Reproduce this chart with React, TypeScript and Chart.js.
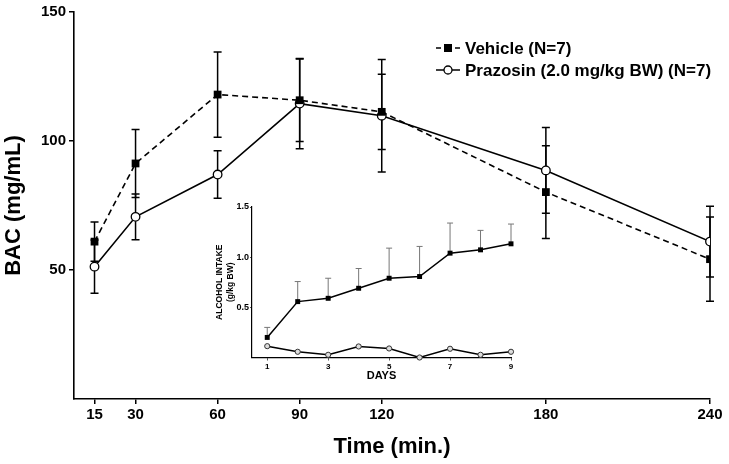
import React, { useEffect, useRef } from "react";
import { Chart, registerables } from "chart.js";
Chart.register(...registerables);

// ---- Main chart data (BAC over time) ----
const timeMin = [15, 30, 60, 90, 120, 180, 240];
const vehicleBAC = [61, 91.3, 118, 115.8, 111.3, 80.2, 54.2];
const vehicleSEM = [7.6, 13.2, 16.5, 16, 14.6, 18, 16.3];
const prazosinBAC = [51.3, 70.6, 87, 114.5, 109.8, 88.6, 61];
const prazosinSEM = [10.3, 8.9, 9.2, 17.5, 21.8, 16.6, 13.7];
const mainYTicks = [50, 100, 150];
const vehicleLabel = "Vehicle (N=7)";
const prazosinLabel = "Prazosin (2.0 mg/kg BW) (N=7)";

// ---- Inset data (alcohol intake by day) ----
const days = [1, 2, 3, 4, 5, 6, 7, 8, 9];
const vehicleIntake = [0.2, 0.557, 0.59, 0.69, 0.79, 0.807, 1.04, 1.073, 1.133];
const vehicleIntakeSEM = [0.1, 0.2, 0.2, 0.197, 0.3, 0.3, 0.3, 0.194, 0.197];
const prazosinIntake = [0.113, 0.057, 0.027, 0.11, 0.09, 0.0, 0.087, 0.027, 0.057];
const insetXTicks = [1, 3, 5, 7, 9];
const insetYTicks = [0.5, 1.0, 1.5];

const FONT = "'Liberation Sans', Arial, Helvetica, sans-serif";

const errorBarPlugin = {
  id: "errorBars",
  beforeDatasetsDraw(chart: any) {
    const ctx = chart.ctx;
    chart.data.datasets.forEach((ds: any, di: number) => {
      if (!ds.errors) return;
      const meta = chart.getDatasetMeta(di);
      const ys = chart.scales[meta.yAxisID];
      ctx.save();
      ctx.strokeStyle = ds.errColor || "#000";
      ctx.lineWidth = ds.errWidth || 1.5;
      meta.data.forEach((pt: any, i: number) => {
        const v = ds.data[i].y;
        const e = ds.errors[i];
        const x = pt.x;
        const yTop = ys.getPixelForValue(v + e);
        const yBot = ds.errUpOnly ? ys.getPixelForValue(v) : ys.getPixelForValue(v - e);
        const c = ds.capHalf || 4;
        ctx.beginPath();
        ctx.moveTo(x, yTop);
        ctx.lineTo(x, yBot);
        ctx.moveTo(x - c, yTop);
        ctx.lineTo(x + c, yTop);
        if (!ds.errUpOnly) {
          ctx.moveTo(x - c, yBot);
          ctx.lineTo(x + c, yBot);
        }
        ctx.stroke();
      });
      ctx.restore();
    });
  },
};

const legendPlugin = {
  id: "customLegend",
  afterDraw(chart: any) {
    const ctx = chart.ctx;
    ctx.save();
    ctx.strokeStyle = "#000";
    ctx.fillStyle = "#000";
    ctx.lineWidth = 1.5;
    // vehicle
    const y1 = 48;
    ctx.beginPath();
    ctx.moveTo(436, y1);
    ctx.lineTo(441, y1);
    ctx.moveTo(455, y1);
    ctx.lineTo(460, y1);
    ctx.stroke();
    ctx.fillRect(444, y1 - 4, 8, 8);
    // prazosin
    const y2 = 70;
    ctx.beginPath();
    ctx.moveTo(436, y2);
    ctx.lineTo(460, y2);
    ctx.stroke();
    ctx.beginPath();
    ctx.fillStyle = "#fff";
    ctx.arc(448, y2, 4, 0, Math.PI * 2);
    ctx.fill();
    ctx.lineWidth = 1.3;
    ctx.stroke();
    ctx.fillStyle = "#000";
    ctx.font = `bold 17px ${FONT}`;
    ctx.textBaseline = "middle";
    ctx.textAlign = "left";
    ctx.fillText(vehicleLabel, 465, y1 + 1);
    ctx.fillText(prazosinLabel, 465, y2 + 1);
    ctx.restore();
  },
};

export default function App() {
  const mainRef = useRef<HTMLCanvasElement>(null);
  const insetRef = useRef<HTMLCanvasElement>(null);

  useEffect(() => {
    document.body.style.margin = "0";
    const main = new Chart(mainRef.current as HTMLCanvasElement, {
      type: "line",
      data: {
        datasets: [
          {
            label: vehicleLabel,
            data: timeMin.map((t, i) => ({ x: t, y: vehicleBAC[i] })),
            borderColor: "#000",
            borderWidth: 1.6,
            borderDash: [6, 4],
            pointStyle: "rect",
            pointRadius: 5.5,
            pointBackgroundColor: "#000",
            pointBorderColor: "#000",
            pointBorderWidth: 0,
            errors: vehicleSEM,
            capHalf: 4,
          } as any,
          {
            label: prazosinLabel,
            data: timeMin.map((t, i) => ({ x: t, y: prazosinBAC[i] })),
            borderColor: "#000",
            borderWidth: 1.6,
            pointStyle: "circle",
            pointRadius: 4.3,
            pointBackgroundColor: "#fff",
            pointBorderColor: "#000",
            pointBorderWidth: 1.3,
            errors: prazosinSEM,
            capHalf: 4,
          } as any,
        ],
      },
      options: {
        animation: false,
        responsive: false,
        devicePixelRatio: 1,
        layout: { padding: { top: 10, right: 19, left: 0, bottom: 0 } },
        plugins: { legend: { display: false }, tooltip: { enabled: false } },
        scales: {
          x: {
            type: "linear",
            min: 7.5,
            max: 240,
            afterBuildTicks: (s: any) => {
              s.ticks = timeMin.map((v) => ({ value: v }));
            },
            afterFit: (s: any) => {
              s.height = 65;
            },
            grid: { drawOnChartArea: false, drawTicks: true, tickLength: 5, color: "#000", lineWidth: 1.5 },
            border: { color: "#000", width: 1.6 },
            ticks: {
              color: "#000",
              font: { family: FONT, size: 15, weight: "bold" },
              padding: 2,
              maxRotation: 0,
              autoSkip: false,
            },
            title: {
              display: true,
              text: "Time (min.)",
              color: "#000",
              font: { family: FONT, size: 22, weight: "bold" },
              padding: { top: 0, bottom: 4 },
            },
          },
          y: {
            type: "linear",
            min: 0,
            max: 150,
            afterBuildTicks: (s: any) => {
              s.ticks = mainYTicks.map((v) => ({ value: v }));
            },
            afterFit: (s: any) => {
              s.width = 74;
            },
            grid: { drawOnChartArea: false, drawTicks: true, tickLength: 5, color: "#000", lineWidth: 1.5 },
            border: { color: "#000", width: 1.6 },
            ticks: {
              color: "#000",
              font: { family: FONT, size: 15, weight: "bold" },
              padding: 3,
            },
            title: {
              display: true,
              text: "BAC (mg/mL)",
              color: "#000",
              font: { family: FONT, size: 22, weight: "bold" },
              padding: { top: 1, bottom: 0 },
            },
          },
        },
      } as any,
      plugins: [errorBarPlugin, legendPlugin],
    });

    const inset = new Chart(insetRef.current as HTMLCanvasElement, {
      type: "line",
      data: {
        datasets: [
          {
            label: "Vehicle",
            data: days.map((d, i) => ({ x: d, y: vehicleIntake[i] })),
            borderColor: "#000",
            borderWidth: 1.5,
            pointStyle: "rect",
            pointRadius: 3.5,
            pointBackgroundColor: "#000",
            pointBorderColor: "#000",
            pointBorderWidth: 0,
            errors: vehicleIntakeSEM,
            errUpOnly: true,
            errColor: "#777",
            errWidth: 1,
            capHalf: 3,
          } as any,
          {
            label: "Prazosin",
            data: days.map((d, i) => ({ x: d, y: prazosinIntake[i] })),
            borderColor: "#000",
            borderWidth: 1.5,
            pointStyle: "circle",
            pointRadius: 2.6,
            pointBackgroundColor: "#ddd",
            pointBorderColor: "#333",
            pointBorderWidth: 1,
          } as any,
        ],
      },
      options: {
        animation: false,
        responsive: false,
        devicePixelRatio: 1,
        clip: false,
        layout: { padding: { top: 12, right: 14, left: 0, bottom: 0 } },
        plugins: { legend: { display: false }, tooltip: { enabled: false } },
        scales: {
          x: {
            type: "linear",
            min: 0.5,
            max: 9,
            afterBuildTicks: (s: any) => {
              s.ticks = insetXTicks.map((v) => ({ value: v }));
            },
            afterFit: (s: any) => {
              s.height = 32.5;
            },
            grid: { drawOnChartArea: false, drawTicks: true, tickLength: 3, color: "#555", lineWidth: 1 },
            border: { color: "#000", width: 1.2 },
            ticks: {
              color: "#000",
              font: { family: FONT, size: 8, weight: "bold" },
              padding: 1,
              maxRotation: 0,
              autoSkip: false,
            },
            title: {
              display: true,
              text: "DAYS",
              color: "#000",
              font: { family: FONT, size: 11, weight: "bold" },
              padding: { top: 0, bottom: 7 },
            },
          },
          y: {
            type: "linear",
            min: 0,
            max: 1.5,
            afterBuildTicks: (s: any) => {
              s.ticks = insetYTicks.map((v) => ({ value: v }));
            },
            afterFit: (s: any) => {
              s.width = 47;
            },
            grid: { drawOnChartArea: false, drawTicks: true, tickLength: 2, color: "#555", lineWidth: 1 },
            border: { color: "#000", width: 1.2 },
            ticks: {
              color: "#000",
              font: { family: FONT, size: 9, weight: "bold" },
              padding: 1,
              callback: (v: any) => Number(v).toFixed(1),
            },
            title: {
              display: true,
              text: ["ALCOHOL INTAKE", "(g/kg BW)"],
              color: "#000",
              font: { family: FONT, size: 8.5, weight: "bold" },
              padding: { top: 10, bottom: 0 },
            },
          },
        },
      } as any,
      plugins: [errorBarPlugin],
    });

    return () => {
      main.destroy();
      inset.destroy();
    };
  }, []);

  return (
    <div style={{ position: "fixed", left: 0, top: 0, width: 729, height: 464, background: "#fff" }}>
      <canvas ref={mainRef} width={729} height={464} style={{ position: "absolute", left: 0, top: 0 }} />
      <canvas ref={insetRef} width={320} height={195} style={{ position: "absolute", left: 205, top: 195 }} />
    </div>
  );
}
